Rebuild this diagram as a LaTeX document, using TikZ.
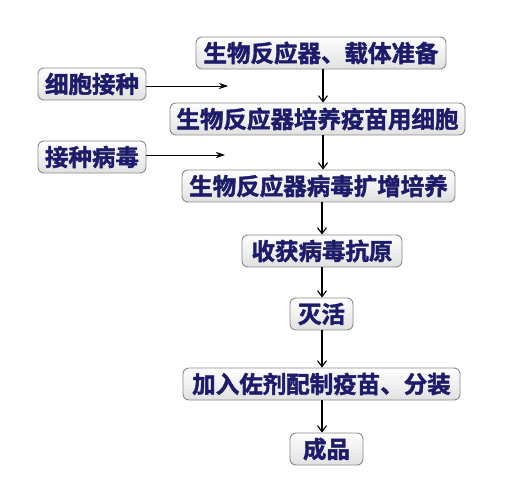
\documentclass[tikz,border=0pt]{standalone}
\usepackage{fontspec}
\newfontfamily\cjk{Noto Sans CJK SC Bold}[FakeBold=1.8]
\usetikzlibrary{arrows.meta,shadings}
\definecolor{txt}{HTML}{1C1C6A}
\definecolor{bord}{HTML}{8A8A8A}
\tikzset{
  box/.style={draw=bord, line width=0.9pt, rounded corners=6pt, top color=white, bottom color=black!12,
    font=\cjk\fontsize{23.5}{23.5}\selectfont, text=txt, inner sep=0pt, minimum height=32pt, anchor=center},
  flow/.style={line width=1.1pt, -{Straight Barb[length=6pt,width=9pt,line width=1.1pt]}},
  side/.style={line width=0.7pt, -{Stealth[length=9pt,width=6pt]}},
}
\begin{document}
\begin{tikzpicture}[x=1pt,y=-1pt]
\useasboundingbox (0,0) rectangle (528,500);
\fill[white] (0,0) rectangle (528,500);
\node[box, minimum width=250pt] (b1) at (321,53) {生物反应器、载体准备};
\node[box, minimum width=295pt] (b2) at (317.5,119) {生物反应器培养疫苗用细胞};
\node[box, minimum width=273pt] (b3) at (318.5,186) {生物反应器病毒扩增培养};
\node[box, minimum width=160pt] (b4) at (322,251) {收获病毒抗原};
\node[box, minimum width=63pt] (b5) at (321.5,314) {灭活};
\node[box, minimum width=277pt] (b6) at (321.5,384) {加入佐剂配制疫苗、分装};
\node[box, minimum width=73pt] (b7) at (326.5,449) {成品};
\node[box, minimum width=108pt] (l1) at (92,84) {细胞接种};
\node[box, minimum width=108pt] (l2) at (92,157) {接种病毒};
\coordinate (e1) at (228,86);
\coordinate (e2) at (225,155);
\draw[flow] (b1.south -| 323,0) -- (b2.north -| 323,0);
\draw[flow] (b2.south -| 323,0) -- (b3.north -| 323,0);
\draw[flow] (b3.south -| 322,0) -- (b4.north -| 322,0);
\draw[flow] (b4.south -| 322,0) -- (b5.north -| 322,0);
\draw[flow] (b5.south -| 322,0) -- (b6.north -| 322,0);
\draw[flow] (b6.south -| 322,0) -- (b7.north -| 322,0);
\draw[side] (l1.east |- e1) -- (e1);
\draw[side] (l2.east |- e2) -- (e2);
\end{tikzpicture}
\end{document}
